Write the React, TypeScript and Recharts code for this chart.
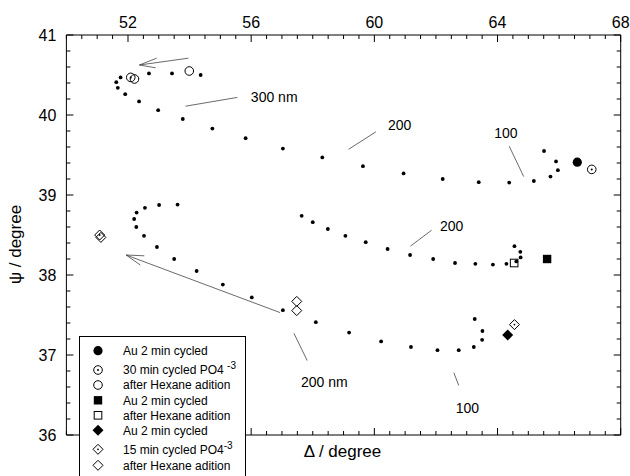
import { ScatterChart, Scatter, XAxis, YAxis, ReferenceLine, ReferenceDot } from "recharts";

const FONT = '"Liberation Sans", Arial, sans-serif';

// [Δ, ψ] pairs
const topCurve = [
  [65.51, 39.55], [65.9, 39.42], [65.96, 39.31], [65.72, 39.23], [65.18, 39.175], [64.38, 39.155],
  [63.39, 39.16], [62.22, 39.2], [60.95, 39.27], [59.63, 39.36], [58.31, 39.47], [57.03, 39.58],
  [55.82, 39.71], [54.74, 39.83], [53.78, 39.95], [52.98, 40.06], [52.36, 40.17], [51.91, 40.26],
  [51.67, 40.34], [51.62, 40.41], [51.76, 40.47], [52.68, 40.52], [53.43, 40.52], [54.36, 40.5],
];
const squareCurve = [
  [64.55, 38.36], [64.74, 38.29], [64.75, 38.22], [64.61, 38.17], [64.29, 38.14], [63.85, 38.13],
  [63.28, 38.14], [62.62, 38.15], [61.91, 38.2], [61.16, 38.25], [60.43, 38.325], [59.72, 38.41],
  [59.06, 38.49], [58.49, 38.575], [58.0, 38.66], [57.64, 38.74],
];
const diamondCurve = [
  [63.26, 37.45], [63.51, 37.3], [63.5, 37.19], [63.23, 37.1], [62.74, 37.06], [62.05, 37.06],
  [61.19, 37.1], [60.22, 37.17], [59.18, 37.28], [58.1, 37.41], [57.03, 37.56], [56.02, 37.72],
  [55.08, 37.88], [54.23, 38.05], [53.5, 38.2], [52.94, 38.35], [52.52, 38.49], [52.27, 38.6],
  [52.2, 38.7], [52.28, 38.78], [52.55, 38.84], [53.01, 38.875], [53.61, 38.88],
];

const auCircle = [[66.59, 39.41]];
const cycledCircle = [[67.06, 39.32], [52.09, 40.47]];
const hexaneCircle = [[52.21, 40.45], [53.99, 40.55]];
const auSquare = [[65.61, 38.2]];
const hexaneSquare = [[64.54, 38.15]];
const auDiamond = [[64.33, 37.25]];
const cycledDiamond = [[64.55, 37.38], [51.08, 38.5]];
const hexaneDiamond = [[51.12, 38.47], [57.48, 37.67], [57.48, 37.555]];

// annotation leader lines / arrows, [Δ1, ψ1, Δ2, ψ2]
const leaders = [
  [53.87, 40.11, 55.55, 40.22],
  [60.05, 39.79, 59.16, 39.57],
  [64.38, 39.61, 64.85, 39.23],
  [61.86, 38.56, 61.17, 38.36],
  [57.39, 37.27, 57.82, 36.93],
  [62.58, 36.78, 62.74, 36.62],
  // top arrow
  [53.96, 40.71, 52.37, 40.625],
  [52.37, 40.625, 52.93, 40.71],
  [52.37, 40.625, 52.9, 40.59],
  // middle arrow
  [56.94, 37.53, 51.94, 38.25],
  [51.94, 38.25, 52.53, 38.24],
  [51.94, 38.25, 52.4, 38.125],
];
const notes: [number, number, string][] = [
  [55.99, 40.225, "300 nm"],
  [60.44, 39.875, "200"],
  [63.89, 39.775, "100"],
  [62.13, 38.616, "200"],
  [57.62, 36.66, "200 nm"],
  [62.64, 36.34, "100"],
];

const xMajor = [52, 56, 60, 64, 68];
const yMajor = [36, 37, 38, 39, 40, 41];
const xTicks = Array.from({ length: 37 }, (_, i) => 50 + i * 0.5);
const yTicks = Array.from({ length: 26 }, (_, i) => Math.round((36 + i * 0.2) * 10) / 10);

const pts = (a: number[][]) => a.map(([x, y]) => ({ x, y }));

function Marker({ kind, cx, cy }: { kind: string; cx: number; cy: number }) {
  const s = { stroke: "#000", strokeWidth: 1 };
  switch (kind) {
    case "dot":
      return <circle cx={cx} cy={cy} r={1.9} fill="#000" />;
    case "fcircle":
      return <circle cx={cx} cy={cy} r={4.6} fill="#000" />;
    case "ocircle":
      return <circle cx={cx} cy={cy} r={4.3} fill="none" {...s} />;
    case "dcircle":
      return (
        <g>
          <circle cx={cx} cy={cy} r={4.3} fill="none" {...s} />
          <circle cx={cx} cy={cy} r={1} fill="#000" />
        </g>
      );
    case "fsquare":
      return <rect x={cx - 4.2} y={cy - 4.2} width={8.4} height={8.4} fill="#000" />;
    case "osquare":
      return <rect x={cx - 3.8} y={cy - 3.8} width={7.6} height={7.6} fill="none" {...s} />;
    case "fdiamond":
      return <path d={`M${cx} ${cy - 5.5}L${cx + 5.5} ${cy}L${cx} ${cy + 5.5}L${cx - 5.5} ${cy}Z`} fill="#000" />;
    case "odiamond":
      return <path d={`M${cx} ${cy - 5}L${cx + 5} ${cy}L${cx} ${cy + 5}L${cx - 5} ${cy}Z`} fill="none" {...s} />;
    case "ddiamond":
      return (
        <g>
          <path d={`M${cx} ${cy - 5}L${cx + 5} ${cy}L${cx} ${cy + 5}L${cx - 5} ${cy}Z`} fill="none" {...s} />
          <circle cx={cx} cy={cy} r={0.9} fill="#000" />
        </g>
      );
  }
  return null;
}

const shape = (kind: string) => (p: any) => <Marker kind={kind} cx={p.cx} cy={p.cy} />;

function makeTick(side: string) {
  return (p: any) => {
    const { x, y, payload } = p;
    const v = payload.value;
    const horiz = side === "top" || side === "bottom";
    const major = horiz ? xMajor.includes(v) : yMajor.includes(v);
    const len = major ? 7 : 4;
    let line;
    if (side === "bottom") line = <line x1={x} y1={y} x2={x} y2={y - len} stroke="#000" />;
    else if (side === "top") line = <line x1={x} y1={y} x2={x} y2={y + len} stroke="#000" />;
    else if (side === "left") line = <line x1={x} y1={y} x2={x + len} y2={y} stroke="#000" />;
    else line = <line x1={x} y1={y} x2={x - len} y2={y} stroke="#000" />;
    let label = null;
    if (major && side === "top")
      label = (
        <text x={x} y={y - 7.5} textAnchor="middle" fontSize={16} fontFamily={FONT} fill="#000">
          {v}
        </text>
      );
    if (major && side === "left")
      label = (
        <text x={x - 10} y={y + 5.8} textAnchor="end" fontSize={16} fontFamily={FONT} fill="#000">
          {v}
        </text>
      );
    return (
      <g>
        {line}
        {label}
      </g>
    );
  };
}

const legendRows: [string, string, string?][] = [
  ["fcircle", "Au 2 min cycled"],
  ["dcircle", "30 min cycled PO4 ", "-3"],
  ["ocircle", "after Hexane adition"],
  ["fsquare", "Au 2 min cycled"],
  ["osquare", "after Hexane adition"],
  ["fdiamond", "Au 2 min cycled"],
  ["ddiamond", "15 min cycled PO4", "-3"],
  ["odiamond", "after Hexane adition"],
];
const legendY = [14.7, 34, 49, 64.3, 79.3, 94.3, 113.3, 129.3];

function LegendBox() {
  return (
    <svg width={167} height={150} style={{ position: "absolute", left: 78.5, top: 335.5 }}>
      <rect x={0.5} y={0.5} width={166} height={160} fill="#fff" stroke="#000" />
      {legendRows.map(([kind, label, sup], i) => (
        <g key={i}>
          <Marker kind={kind} cx={19} cy={legendY[i]} />
          <text x={44} y={legendY[i] + 4.3} fontSize={12} fontFamily={FONT} fill="#000">
            {label}
            {sup && (
              <tspan dy={-5} fontSize={10}>
                {sup}
              </tspan>
            )}
          </text>
        </g>
      ))}
    </svg>
  );
}

export default function App() {
  const axisProps = { stroke: "#000", tickLine: false, tickSize: 0, tickMargin: 0, interval: 0 as const };
  return (
    <div style={{ position: "relative", width: 630, height: 476, overflow: "hidden", background: "#fff" }}>
      <style>{"body{margin:0}"}</style>
      <ScatterChart width={630} height={476} margin={{ top: 34, right: 8.3, bottom: 40, left: 65.4 }}>
        <XAxis xAxisId={0} type="number" dataKey="x" domain={[50, 68]} ticks={xTicks} orientation="bottom" height={1} tick={makeTick("bottom")} {...axisProps} />
        <XAxis xAxisId="top" type="number" dataKey="x" domain={[50, 68]} ticks={xTicks} orientation="top" height={1} tick={makeTick("top")} {...axisProps} />
        <YAxis yAxisId={0} type="number" dataKey="y" domain={[36, 41]} ticks={yTicks} orientation="left" width={1} tick={makeTick("left")} {...axisProps} />
        <YAxis yAxisId="right" type="number" dataKey="y" domain={[36, 41]} ticks={yTicks} orientation="right" width={1} tick={makeTick("right")} {...axisProps} />

        {leaders.map(([x1, y1, x2, y2], i) => (
          <ReferenceLine key={"l" + i} segment={[{ x: x1, y: y1 }, { x: x2, y: y2 }]} stroke="#444" strokeWidth={0.8} />
        ))}
        {notes.map(([x, y, t], i) => (
          <ReferenceDot
            key={"n" + i}
            x={x}
            y={y}
            r={0}
            shape={(p: any) => (
              <text x={p.cx} y={p.cy + 5} fontSize={14} fontFamily={FONT} fill="#000">
                {t}
              </text>
            )}
          />
        ))}

        {/* ties the top and right frame axes to data so they get drawn */}
        <Scatter data={pts(auCircle)} xAxisId="top" yAxisId="right" shape={() => <g />} isAnimationActive={false} />

        <Scatter data={pts(topCurve)} shape={shape("dot")} isAnimationActive={false} />
        <Scatter data={pts(squareCurve)} shape={shape("dot")} isAnimationActive={false} />
        <Scatter data={pts(diamondCurve)} shape={shape("dot")} isAnimationActive={false} />
        <Scatter data={pts(auCircle)} shape={shape("fcircle")} isAnimationActive={false} />
        <Scatter data={pts(cycledCircle)} shape={shape("dcircle")} isAnimationActive={false} />
        <Scatter data={pts(hexaneCircle)} shape={shape("ocircle")} isAnimationActive={false} />
        <Scatter data={pts(auSquare)} shape={shape("fsquare")} isAnimationActive={false} />
        <Scatter data={pts(hexaneSquare)} shape={shape("osquare")} isAnimationActive={false} />
        <Scatter data={pts(auDiamond)} shape={shape("fdiamond")} isAnimationActive={false} />
        <Scatter data={pts(cycledDiamond)} shape={shape("ddiamond")} isAnimationActive={false} />
        <Scatter data={pts(hexaneDiamond)} shape={shape("odiamond")} isAnimationActive={false} />
      </ScatterChart>

      <svg width={630} height={476} style={{ position: "absolute", left: 0, top: 0, pointerEvents: "none" }}>
        <text x={342.5} y={457} textAnchor="middle" fontSize={17} fontFamily={FONT} fill="#000">
          Δ / degree
        </text>
        <text transform="translate(21,244.5) rotate(-90)" textAnchor="middle" fontSize={17} fontFamily={FONT} fill="#000">
          ψ / degree
        </text>
      </svg>
      <LegendBox />
    </div>
  );
}
